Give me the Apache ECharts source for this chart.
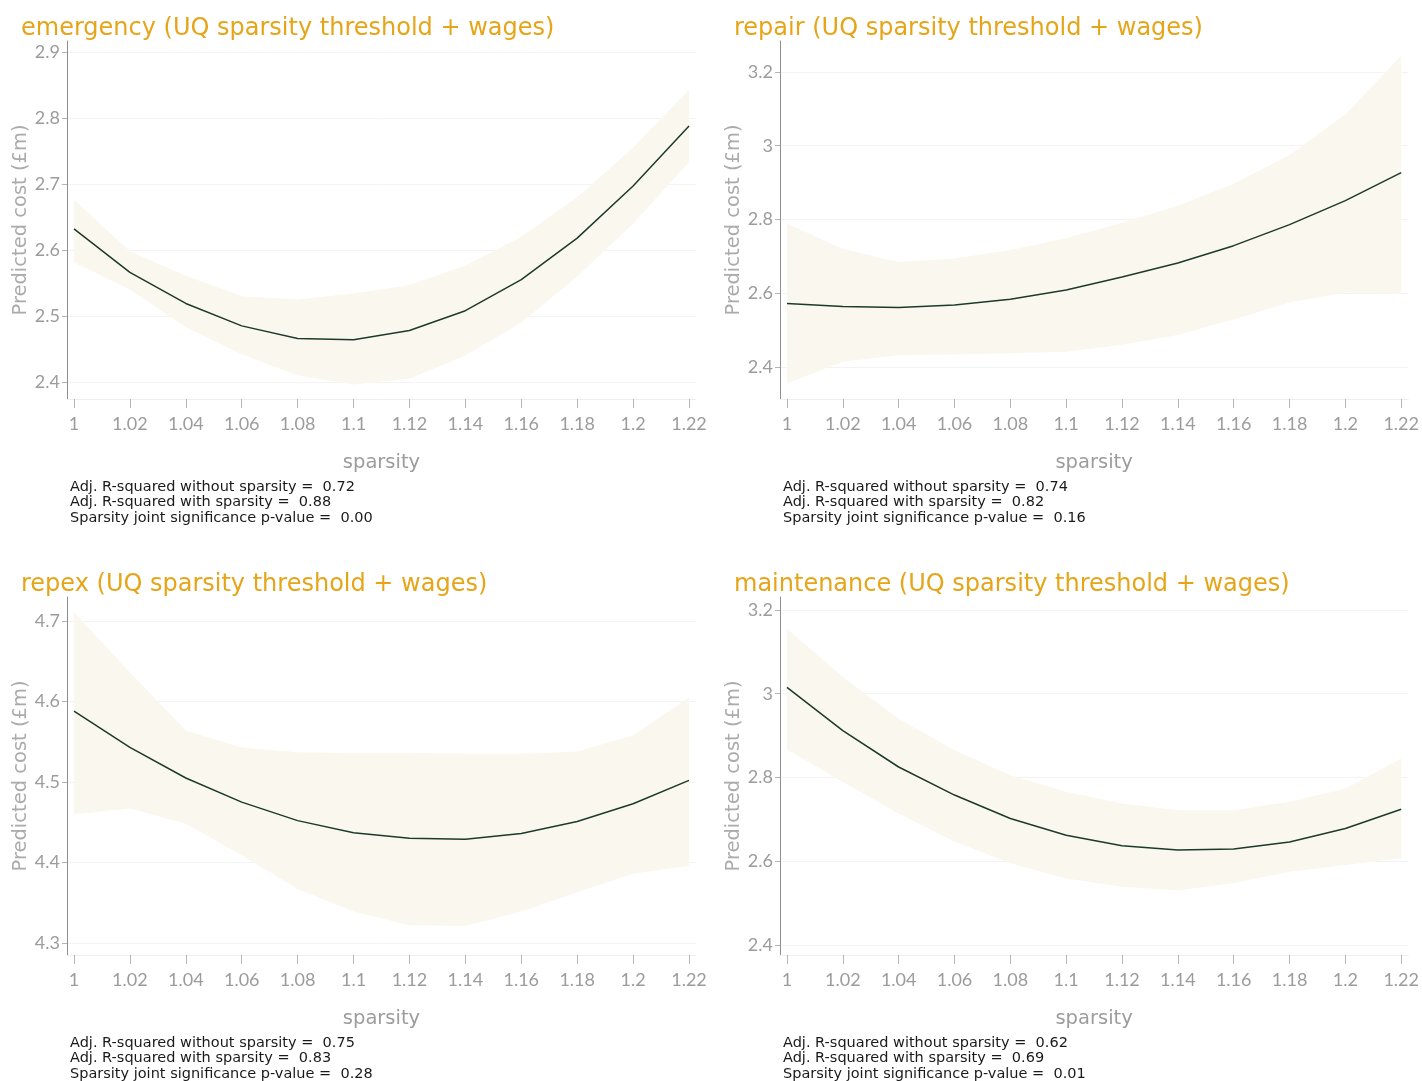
<!DOCTYPE html>
<html>
<head>
<meta charset="utf-8">
<title>Predicted cost by sparsity</title>
<script src="https://cdn.jsdelivr.net/npm/echarts@6/dist/echarts.min.js"></script>
<style>
  html, body { margin: 0; padding: 0; background: #ffffff; }
  #chart { width: 1422px; height: 1081px; }
</style>
</head>
<body>
<div id="chart"></div>
<script>
// Sparsity values shared by every panel
const sparsity = [1.00, 1.02, 1.04, 1.06, 1.08, 1.10, 1.12, 1.14, 1.16, 1.18, 1.20, 1.22];
const sparsityTicks = [1, 1.02, 1.04, 1.06, 1.08, 1.1, 1.12, 1.14, 1.16, 1.18, 1.2, 1.22];

// emergency
const emergencyFit   = [2.632, 2.566, 2.519, 2.485, 2.466, 2.464, 2.478, 2.508, 2.555, 2.618, 2.697, 2.788];
const emergencyUpper = [2.676, 2.598, 2.561, 2.530, 2.525, 2.534, 2.547, 2.576, 2.620, 2.680, 2.755, 2.843];
const emergencyLower = [2.581, 2.540, 2.483, 2.442, 2.410, 2.396, 2.405, 2.440, 2.490, 2.560, 2.640, 2.733];
const emergencyTicks = [2.4, 2.5, 2.6, 2.7, 2.8, 2.9];

// repair
const repairFit   = [2.572, 2.564, 2.561, 2.568, 2.584, 2.609, 2.644, 2.682, 2.729, 2.786, 2.851, 2.927];
const repairUpper = [2.789, 2.720, 2.685, 2.694, 2.717, 2.749, 2.791, 2.837, 2.897, 2.975, 3.085, 3.244];
const repairLower = [2.355, 2.414, 2.432, 2.434, 2.437, 2.441, 2.460, 2.487, 2.529, 2.575, 2.602, 2.598];
const repairTicks = [2.4, 2.6, 2.8, 3, 3.2];

// repex
const repexFit   = [4.588, 4.543, 4.505, 4.475, 4.452, 4.437, 4.430, 4.429, 4.436, 4.451, 4.473, 4.502];
const repexUpper = [4.711, 4.636, 4.564, 4.543, 4.537, 4.536, 4.536, 4.535, 4.535, 4.538, 4.558, 4.605];
const repexLower = [4.460, 4.467, 4.448, 4.409, 4.367, 4.339, 4.322, 4.321, 4.339, 4.363, 4.386, 4.396];
const repexTicks = [4.3, 4.4, 4.5, 4.6, 4.7];

// maintenance
const maintenanceFit   = [3.015, 2.912, 2.825, 2.758, 2.702, 2.662, 2.637, 2.627, 2.629, 2.646, 2.678, 2.724];
const maintenanceUpper = [3.155, 3.040, 2.940, 2.865, 2.805, 2.766, 2.738, 2.722, 2.722, 2.742, 2.773, 2.845];
const maintenanceLower = [2.867, 2.789, 2.714, 2.647, 2.595, 2.559, 2.539, 2.530, 2.548, 2.575, 2.591, 2.607];
const maintenanceTicks = [2.4, 2.6, 2.8, 3, 3.2];

// Titles and fit statistics
const panelTitles = [
  'emergency (UQ sparsity threshold + wages)',
  'repair (UQ sparsity threshold + wages)',
  'repex (UQ sparsity threshold + wages)',
  'maintenance (UQ sparsity threshold + wages)'
];
const rsqWithout = ['0.72', '0.74', '0.75', '0.62'];
const rsqWith    = ['0.88', '0.82', '0.83', '0.69'];
const jointP     = ['0.00', '0.16', '0.28', '0.01'];

const yName = 'Predicted cost (£m)';
const xName = 'sparsity';

// Layout of the 2x2 grid (pixels)
const panels = [
  { fit: emergencyFit, upper: emergencyUpper, lower: emergencyLower, ticks: emergencyTicks,
    yMin: 2.3742, yMax: 2.9167, grid: { left: 67, top: 41, width: 629, height: 358 } },
  { fit: repairFit, upper: repairUpper, lower: repairLower, ticks: repairTicks,
    yMin: 2.3132, yMax: 3.284, grid: { left: 780, top: 41, width: 632, height: 358 } },
  { fit: repexFit, upper: repexUpper, lower: repexLower, ticks: repexTicks,
    yMin: 4.2851, yMax: 4.7298, grid: { left: 67, top: 597, width: 629, height: 358 } },
  { fit: maintenanceFit, upper: maintenanceUpper, lower: maintenanceLower, ticks: maintenanceTicks,
    yMin: 2.376, yMax: 3.231, grid: { left: 780, top: 597, width: 632, height: 358 } }
];

const TITLE_COLOR = '#e6a519';
const AXIS_TEXT = '#9c9c9c';
const BAND_COLOR = '#faf7ee';
const LINE_COLOR = '#1c3a2b';
const TICK_FONT = 'Lato, "Noto Sans", sans-serif';
const TEXT_FONT = '"DejaVu Sans", "Noto Sans", sans-serif';

const grids = [], xAxes = [], yAxes = [], series = [], titles = [], graphics = [];

panels.forEach(function (p, i) {
  grids.push(Object.assign({ containLabel: false }, p.grid));

  xAxes.push({
    type: 'value', gridIndex: i, min: 0.9975, max: 1.2225,
    name: xName, nameLocation: 'middle', nameGap: 54,
    nameTextStyle: { color: AXIS_TEXT, fontSize: 19.5, fontFamily: TEXT_FONT },
    axisLine: { show: true, lineStyle: { color: '#efefef', width: 1 } },
    axisTick: { show: true, length: 9, customValues: sparsityTicks, lineStyle: { color: '#b5b5b5' } },
    axisLabel: { customValues: sparsityTicks, color: AXIS_TEXT, fontSize: 18, fontFamily: TICK_FONT, margin: 16 },
    splitLine: { show: false }
  });

  yAxes.push({
    type: 'value', gridIndex: i, min: p.yMin, max: p.yMax,
    name: yName, nameLocation: 'middle', nameGap: 31,
    nameTextStyle: { color: '#ababab', fontSize: 19.5, fontFamily: TEXT_FONT },
    axisLine: { show: true, lineStyle: { color: '#8f8f8f', width: 1 } },
    axisTick: { show: true, length: 5, customValues: p.ticks, lineStyle: { color: '#b5b5b5' } },
    axisLabel: { customValues: p.ticks, color: AXIS_TEXT, fontSize: 18, fontFamily: TICK_FONT, margin: 7 },
    splitLine: { show: true, lineStyle: { color: '#f3f3f3', width: 1 } }
  });

  // Confidence band: polygon along the upper bound, back along the lower bound
  series.push({
    type: 'custom', xAxisIndex: i, yAxisIndex: i, silent: true, z: 1,
    data: sparsity.map(function (x, k) { return [x, p.lower[k], p.upper[k]]; }),
    encode: { x: 0, y: [1, 2] },
    renderItem: function (params, api) {
      if (params.dataIndex !== 0) return null;
      const pts = [];
      for (let k = 0; k < sparsity.length; k++) pts.push(api.coord([sparsity[k], p.upper[k]]));
      for (let k = sparsity.length - 1; k >= 0; k--) pts.push(api.coord([sparsity[k], p.lower[k]]));
      return { type: 'polygon', shape: { points: pts }, style: { fill: BAND_COLOR } };
    }
  });
  series.push({
    type: 'line', xAxisIndex: i, yAxisIndex: i, silent: true,
    symbol: 'none', lineStyle: { color: LINE_COLOR, width: 1.5 },
    data: sparsity.map(function (x, k) { return [x, p.fit[k]]; }),
    z: 5
  });

  const col = i % 2, row = Math.floor(i / 2);
  titles.push({
    text: panelTitles[i],
    left: col === 0 ? 21 : 734,
    top: row === 0 ? 14 : 570,
    padding: 0,
    textStyle: { color: TITLE_COLOR, fontSize: 24, fontWeight: 'normal', fontFamily: TEXT_FONT, lineHeight: 30 }
  });

  graphics.push({
    type: 'text',
    left: col === 0 ? 70 : 783,
    top: row === 0 ? 479 : 1035,
    style: {
      text: 'Adj. R-squared without sparsity =  ' + rsqWithout[i] +
            '\nAdj. R-squared with sparsity =  ' + rsqWith[i] +
            '\nSparsity joint significance p-value =  ' + jointP[i],
      fill: '#1a1a1a', fontSize: 14.5, lineHeight: 15.5, fontFamily: TEXT_FONT
    }
  });
});

const chart = echarts.init(document.getElementById('chart'), null, { renderer: 'canvas' });
chart.setOption({
  animation: false,
  backgroundColor: '#ffffff',
  title: titles,
  grid: grids,
  xAxis: xAxes,
  yAxis: yAxes,
  series: series,
  graphic: graphics
});
</script>
</body>
</html>
